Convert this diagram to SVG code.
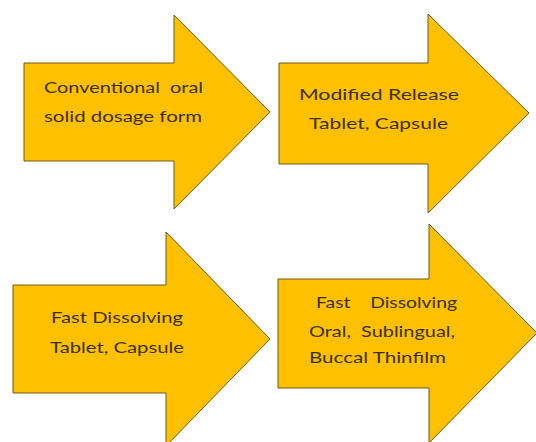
<svg xmlns="http://www.w3.org/2000/svg" width="536" height="442" viewBox="0 0 536 442">
<style>
.arrow{fill:#FFC000;stroke:#6b5a1a;stroke-width:1}
.t{font-family:Lato,"Open Sans","Liberation Sans",sans-serif;font-size:16px;fill:#3a3000;white-space:pre}
</style>
<rect width="536" height="442" fill="#ffffff"/>
<g id="connectors"></g>
<g id="node1">
<polygon class="arrow" points="24,63 174,63 174,15 270,112 174,209 174,161 24,161"/>
<text class="t" x="44" y="93" textLength="159" lengthAdjust="spacingAndGlyphs" xml:space="preserve">Conventional  oral</text>
<text class="t" x="44" y="122" textLength="158" lengthAdjust="spacingAndGlyphs">solid dosage form</text>
</g>
<g id="node2">
<polygon class="arrow" points="279,63 428,63 428,14 529,113 428,213 428,164 279,164"/>
<text class="t" x="299" y="100" textLength="160" lengthAdjust="spacingAndGlyphs">Modified Release</text>
<text class="t" x="309" y="129" textLength="139" lengthAdjust="spacingAndGlyphs">Tablet, Capsule</text>
</g>
<g id="node3">
<polygon class="arrow" points="13,285 166,285 166,232 270,339 166,446 166,393 13,393"/>
<text class="t" x="51" y="323" textLength="132" lengthAdjust="spacingAndGlyphs">Fast Dissolving</text>
<text class="t" x="50" y="353" textLength="134" lengthAdjust="spacingAndGlyphs">Tablet, Capsule</text>
</g>
<g id="node4">
<polygon class="arrow" points="278,279 429,279 429,224 537,333 429,443 429,388 278,388"/>
<text class="t" x="316" y="308" textLength="141" lengthAdjust="spacingAndGlyphs" xml:space="preserve">Fast    Dissolving</text>
<text class="t" x="309" y="337" textLength="146" lengthAdjust="spacingAndGlyphs" xml:space="preserve">Oral,  Sublingual,</text>
<text class="t" x="309" y="363" textLength="137" lengthAdjust="spacingAndGlyphs">Buccal Thinfilm</text>
</g>
</svg>
